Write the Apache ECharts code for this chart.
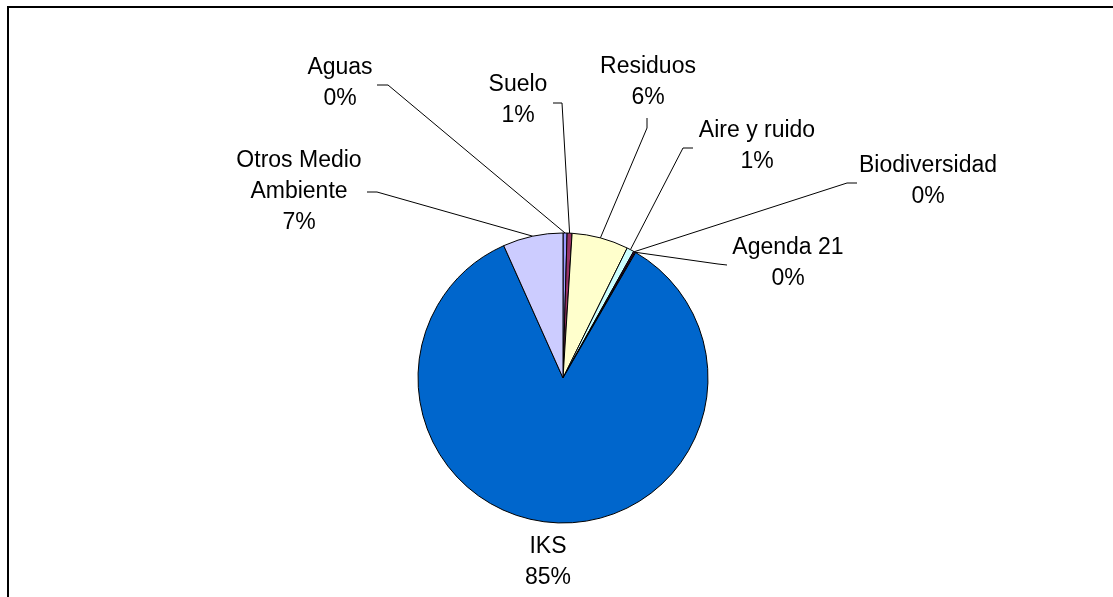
<!DOCTYPE html>
<html><head><meta charset="utf-8">
<script src="https://cdn.jsdelivr.net/npm/echarts@6/dist/echarts.min.js"></script>
<style>html,body{margin:0;padding:0;background:#fff}#c{width:1113px;height:597px}</style>
</head><body><div id="c"></div>
<script>
const categories = ['Aguas','Suelo','Residuos','Aire y ruido','Biodiversidad','Agenda 21','IKS','Otros Medio Ambiente'];
const values = [0.45, 0.55, 6.3, 0.8, 0.15, 0.1, 84.95, 6.7];
const colors = ['#9999FF','#993366','#FFFFCC','#CCFFFF','#660066','#FF8080','#0066CC','#CCCCFF'];

// label placement (text centre + leader line elbow points), layout only
const labelPlace = {
  'Aguas': {x:340, y:83, line:[[388,85],[377,85]]},
  'Suelo': {x:518, y:100, line:[[562,103],[553,103]]},
  'Residuos': {x:648, y:82, line:[[647,128],[647,118]]},
  'Aire y ruido': {x:757, y:146, line:[[683,148],[693,148]]},
  'Biodiversidad': {x:928, y:181, line:[[847,183],[857,183]]},
  'Agenda 21': {x:788, y:263, line:[[718,264],[727,265]]},
  'IKS': {x:548, y:562, line:null},
  'Otros Medio Ambiente': {x:299, y:192, line:[[377,192],[367,192]]}
};

const chart = echarts.init(document.getElementById('c'), null, {renderer:'canvas'});
chart.setOption({
  backgroundColor:'#fff',
  animation:false,
  graphic:[
    {type:'polyline', shape:{points:[[8,597],[8,7],[1113,7]]}, style:{stroke:'#000', lineWidth:2, fill:null}}
  ],
  series:[{
    type:'pie',
    center:[563,378],
    radius:145,
    startAngle:90,
    clockwise:true,
    avoidLabelOverlap:false,
    percentPrecision:0,
    itemStyle:{borderColor:'#000', borderWidth:1},
    label:{
      show:true, position:'outside', color:'#000',
      fontFamily:'Liberation Sans, Arial, sans-serif', fontSize:23, lineHeight:31,
      align:'center',
      formatter:p => p.name.replace('Otros Medio ', 'Otros Medio\n') + '\n' + p.percent + '%'
    },
    labelLine:{show:true, length:10, length2:10, lineStyle:{color:'#000', width:1}},
    labelLayout:function(params){
      const p = labelPlace[categories[params.dataIndex]];
      const res = {x:p.x, y:p.y, align:'center', verticalAlign:'middle'};
      if (p.line && params.labelLinePoints) {
        res.labelLinePoints = [params.labelLinePoints[0], p.line[0], p.line[1]];
      }
      return res;
    },
    data: categories.map((n,i) => ({
      name:n, value:values[i], itemStyle:{color:colors[i]},
      labelLine: labelPlace[n].line ? undefined : {show:false}
    }))
  }]
});
</script></body></html>
